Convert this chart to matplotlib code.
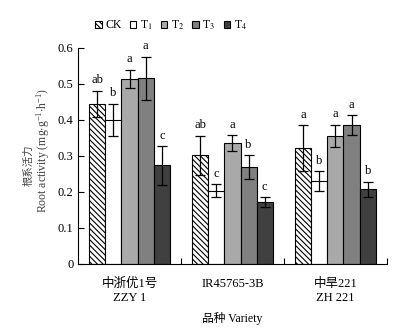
import numpy as np
import matplotlib
matplotlib.use('Agg')
import matplotlib.pyplot as plt

plt.rcParams['font.family'] = ['Liberation Serif', 'Noto Sans CJK SC']
plt.rcParams['mathtext.fontset'] = 'stix'
plt.rcParams['hatch.linewidth'] = 0.8

# 数据
varieties = ['中浙优1号\nZZY 1', 'IR45765-3B', '中旱221\nZH 221']
treatments = ['CK', 'T$_1$', 'T$_2$', 'T$_3$', 'T$_4$']
ck = [0.445, 0.302, 0.321]
t1 = [0.400, 0.203, 0.231]
t2 = [0.514, 0.336, 0.356]
t3 = [0.516, 0.270, 0.385]
t4 = [0.274, 0.171, 0.207]
ck_err = [0.036, 0.054, 0.064]
t1_err = [0.045, 0.018, 0.027]
t2_err = [0.026, 0.021, 0.031]
t3_err = [0.060, 0.033, 0.028]
t4_err = [0.054, 0.014, 0.022]
letters = [['ab', 'ab', 'a'],
           ['b', 'c', 'b'],
           ['a', 'a', 'a'],
           ['a', 'b', 'a'],
           ['c', 'c', 'b']]

values = [ck, t1, t2, t3, t4]
errors = [ck_err, t1_err, t2_err, t3_err, t4_err]
colors = ['white', 'white', '#a9a9a9', '#808080', '#404040']
hatches = ['\\\\\\\\\\\\', '', '', '', '']

fig = plt.figure(figsize=(4.2, 3.35), dpi=100)
ax = fig.add_axes([0.186, 0.212, 0.735, 0.645])

x = np.arange(len(varieties))
w = 0.157
for i in range(5):
    pos = x + (i - 2) * w
    ax.bar(pos, values[i], width=w, color=colors[i], edgecolor='black',
           linewidth=0.8, hatch=hatches[i], label=treatments[i])
    ax.errorbar(pos, values[i], yerr=errors[i], fmt='none', ecolor='black',
                elinewidth=0.9, capsize=3.5, capthick=0.9)
    for j in range(len(x)):
        ax.text(pos[j], values[i][j] + errors[i][j] + 0.012, letters[i][j],
                ha='center', va='bottom', fontsize=9)

ax.set_xlim(-0.5, 2.5)
ax.set_ylim(0, 0.6)
ax.set_yticks(np.arange(0, 0.61, 0.1))
ax.set_yticklabels(['0', '0.1', '0.2', '0.3', '0.4', '0.5', '0.6'])
ax.set_xticks([0.5, 1.5, 2.5])
ax.set_xticklabels([])
ax.set_xticks(x, minor=True)
ax.set_xticklabels(varieties, minor=True, fontsize=9, linespacing=1.2)
ax.tick_params(axis='x', which='minor', length=0, pad=10)
ax.tick_params(axis='x', which='major', direction='in', length=4, width=0.8)
ax.tick_params(axis='y', direction='in', length=4, width=0.8, labelsize=9)
for s in ['top', 'right']:
    ax.spines[s].set_visible(False)
for s in ['left', 'bottom']:
    ax.spines[s].set_linewidth(0.8)

ax.set_xlabel('品种 Variety', fontsize=8.5, labelpad=6)

# 纵轴标题（两行，中文略小）
fig.text(28 / 420, 1 - 165 / 335, '根系活力', rotation=90, ha='center',
         va='center', fontsize=7.5, color='#444444')
fig.text(43 / 420, 1 - 151 / 335,
         'Root activity ($\\mathregular{mg{\\cdot}g^{-1}{\\cdot}h^{-1}}$)',
         rotation=90, ha='center', va='center', fontsize=8.5, color='#444444')

fig.legend(loc='center', bbox_to_anchor=(171 / 420, 1 - 25 / 335), ncol=5,
           frameon=False, fontsize=8.5, handlelength=0.55, handleheight=0.55,
           handletextpad=0.3, columnspacing=0.7)

fig.savefig('out.png', dpi=100)
